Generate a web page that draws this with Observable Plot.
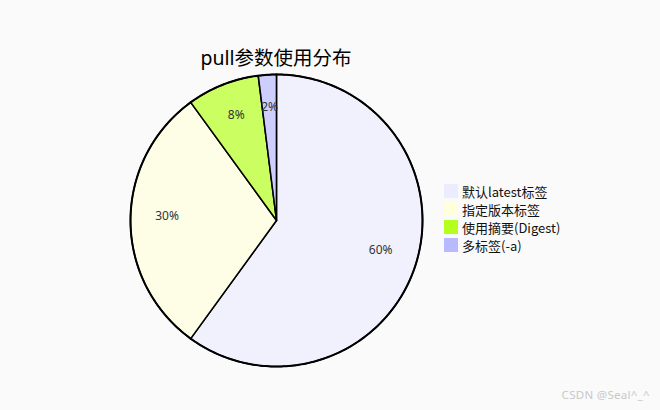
<!DOCTYPE html>
<html>
<head>
<meta charset="utf-8">
<script src="https://cdn.jsdelivr.net/npm/d3@7"></script>
<script src="https://cdn.jsdelivr.net/npm/@observablehq/plot@0.6"></script>
<style>
  html, body { margin: 0; padding: 0; background: #fafafa; }
  #wrap { position: relative; width: 660px; height: 410px; overflow: hidden; }
  #title { position: absolute; left: 0; top: 42px; width: 552px; text-align: center;
    font-family: "Noto Sans", "Noto Sans CJK SC", sans-serif; font-size: 19.5px; color: #000; }
  #legend { position: absolute; left: 444px; top: 182px; }
  #legend .sw { display: flex; align-items: center; height: 18px;
    font-family: "Noto Sans CJK SC", sans-serif; font-size: 13px; color: #111; }
  #legend .sw i { display: inline-block; width: 14px; height: 14px; margin-right: 4px; }
  #mark { position: absolute; right: 10px; bottom: 8px; font-family: "Noto Sans", sans-serif;
    font-size: 11.5px; letter-spacing: 0.3px; color: #c8c8c8; }
</style>
</head>
<body>
<div id="wrap">
  <div id="title"></div>
  <div id="chart"></div>
  <div id="legend"></div>
  <div id="mark">CSDN @Seal^_^</div>
</div>
<script>
const titleText = "pull参数使用分布";
const categories = ["默认latest标签", "指定版本标签", "使用摘要(Digest)", "多标签(-a)"];
const values = [60, 30, 8, 2];
const colors = ["#ECECFF", "#FFFFDE", "#B5FF20", "#B9B9FF"];

document.getElementById("title").textContent = titleText;

const total = d3.sum(values);
const arcs = d3.pie().sort(null).value((d, i) => values[i])(categories);

// slice polygons in unit coordinates (angle clockwise from top)
const pts = [];
arcs.forEach((a, i) => {
  const cat = categories[i];
  pts.push({cat, x: 0, y: 0});
  const n = Math.max(2, Math.ceil((a.endAngle - a.startAngle) / (Math.PI / 180)));
  for (let k = 0; k <= n; k++) {
    const t = a.startAngle + (a.endAngle - a.startAngle) * k / n;
    pts.push({cat, x: Math.sin(t), y: Math.cos(t)});
  }
});
const labels = arcs.map((a, i) => {
  const m = (a.startAngle + a.endAngle) / 2;
  return {cat: categories[i], x: 0.75 * Math.sin(m), y: 0.75 * Math.cos(m),
    text: Math.round(values[i] / total * 100) + "%"};
});

const plot = Plot.plot({
  width: 660, height: 410, margin: 0,
  style: {background: "transparent"},
  x: {domain: [-1, 1], range: [130, 422], axis: null},
  y: {domain: [-1, 1], range: [366, 74], axis: null},
  color: {domain: categories, range: colors},
  marks: [
    Plot.line(pts, {x: "x", y: "y", z: "cat", fill: "cat", fillOpacity: 0.7,
      stroke: "black", strokeWidth: 1.5, curve: "linear-closed"}),
    Plot.line(pts.filter(p => !(p.x === 0 && p.y === 0)), {x: "x", y: "y", z: "cat",
      stroke: "black", strokeWidth: 2, curve: "linear"}),
    Plot.text(labels, {x: "x", y: "y", text: "text", fill: "#333", fontSize: 12,
      fontFamily: "Noto Sans, sans-serif", dy: -4})
  ]
});
document.getElementById("chart").appendChild(plot);

const leg = document.getElementById("legend");
categories.forEach((c, i) => {
  const row = document.createElement("div");
  row.className = "sw";
  const sw = document.createElement("i");
  sw.style.background = plot.scale("color").apply(c);
  row.appendChild(sw);
  row.appendChild(document.createTextNode(c));
  leg.appendChild(row);
});
</script>
</body>
</html>
